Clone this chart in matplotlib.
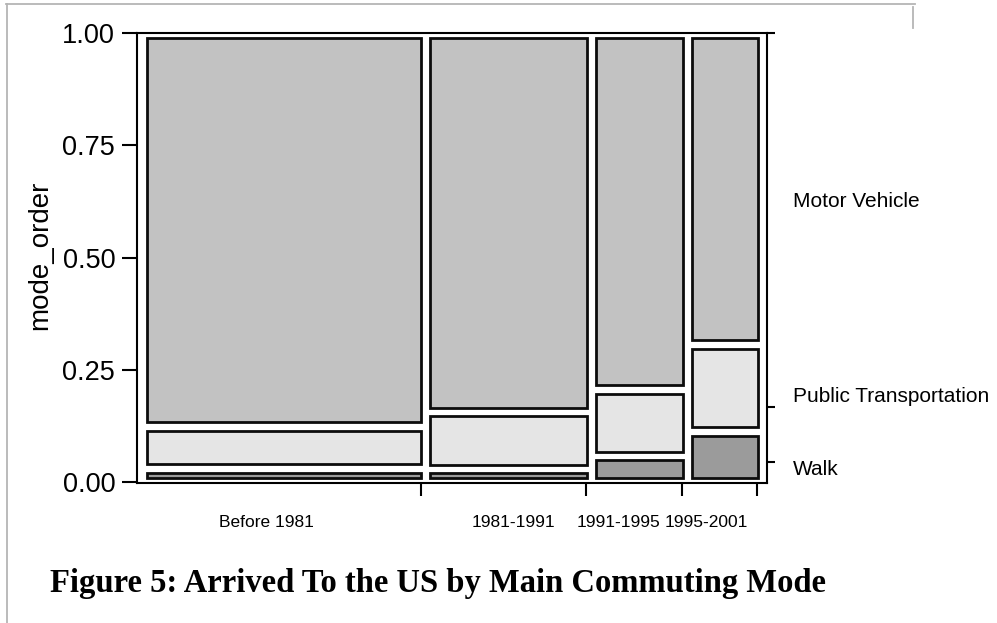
import numpy as np
import matplotlib
matplotlib.use("Agg")
import matplotlib.pyplot as plt
from matplotlib.patches import Rectangle
from matplotlib.lines import Line2D
from matplotlib import transforms

# period of arrival (x categories) and their share of respondents
periods = ["Before 1981", "1981-1991", "1991-1995", "1995-2001"]
period_share = [0.457, 0.267, 0.155, 0.121]

# commuting mode shares within each period, stacked from the bottom
modes = ["Walk", "Public Transportation", "Motor Vehicle"]
walk = [0.030, 0.029, 0.058, 0.113]
public = [0.093, 0.127, 0.149, 0.193]
motor = [0.877, 0.844, 0.793, 0.694]

mode_colors = ["#9b9b9b", "#e5e5e5", "#c2c2c2"]
mode_label_y = [0.0156, 0.178, 0.613]
period_label_x = [0.207, 0.607, 0.777, 0.918]

plt.rcParams["font.family"] = "Liberation Sans"

W, H = 997, 623
fig = plt.figure(figsize=(W / 100, H / 100), dpi=100)
ax = fig.add_axes([136.7 / W, (H - 483) / H, 630.6 / W, 449.7 / H])
ax.set_xlim(-0.0021, 1.0166)
ax.set_ylim(-0.0022, 1.0)

# pixel sizes of one data unit, for the gaps between tiles
px_x = ax.bbox.width / (1.0166 + 0.0021)
px_y = ax.bbox.height / 1.0022
inset = 4.4
shift = ax.transData + transforms.ScaledTranslation(5 / 100, 0, fig.dpi_scale_trans)

shares = np.array([walk, public, motor])
lefts = np.concatenate([[0], np.cumsum(period_share)[:-1]])
for i, (x0, w) in enumerate(zip(lefts, period_share)):
    bottom = 0.0
    for j in range(len(modes)):
        h = shares[j, i]
        ax.add_patch(Rectangle(
            (x0 + inset / px_x, bottom + inset / px_y),
            w - 2 * inset / px_x, h - 2 * inset / px_y,
            facecolor=mode_colors[j], edgecolor="#0c0c0c",
            linewidth=2.0, transform=shift))
        bottom += h

for s in ax.spines.values():
    s.set_linewidth(1.5)

# y axis
ax.set_yticks([0, 0.25, 0.5, 0.75, 1.0])
ax.set_yticklabels(["0.00", "0.25", "0.50", "0.75", "1.00"])
ax.tick_params(axis="y", length=10.5, width=1.5, labelsize=19.5, pad=5)

# x axis: ticks at period boundaries, labels below
bounds = np.cumsum(period_share)
ax.set_xticks(bounds)
ax.set_xticklabels([])
ax.set_xticks(period_label_x, minor=True)
ax.set_xticklabels(periods, minor=True)
ax.tick_params(axis="x", which="major", length=9, width=1.5)
ax.tick_params(axis="x", which="minor", length=0, labelsize=12.5, pad=23)

# right axis: overall cumulative shares
overall = shares @ np.array(period_share)
ax2 = ax.twinx()
ax2.set_ylim(ax.get_ylim())
ax2.set_yticks([overall[0], overall[0] + overall[1], 1.0])
ax2.set_yticklabels([])
ax2.tick_params(axis="y", length=6, width=1.5)
for s in ax2.spines.values():
    s.set_visible(False)

blend = transforms.blended_transform_factory(ax.transAxes, ax.transData)
for name, y in zip(modes, mode_label_y):
    ax.text(1.0412, y, name, transform=blend, fontsize=15,
            ha="left", va="baseline")

fig.text(40 / W, 1 - 255 / H, "mode_order", rotation=90, fontsize=20,
         ha="center", va="center")

fig.text(50 / W, (H - 592) / H, "Figure 5: Arrived To the US by Main Commuting Mode",
         fontfamily="Liberation Serif", fontweight="bold", fontsize=23.5,
         ha="left", va="baseline")

# page border of the document around the chart
gray = "#b5b5b5"
fig.add_artist(Line2D([6.5 / W, 6.5 / W], [0, 1 - 4 / H], color=gray, lw=1.3))
fig.add_artist(Line2D([6 / W, 915 / W], [1 - 4 / H, 1 - 4 / H], color=gray, lw=1.3))
fig.add_artist(Line2D([913 / W, 913 / W], [1 - 7 / H, 1 - 28 / H], color=gray, lw=1.3))

fig.savefig("out.png", dpi=100)
